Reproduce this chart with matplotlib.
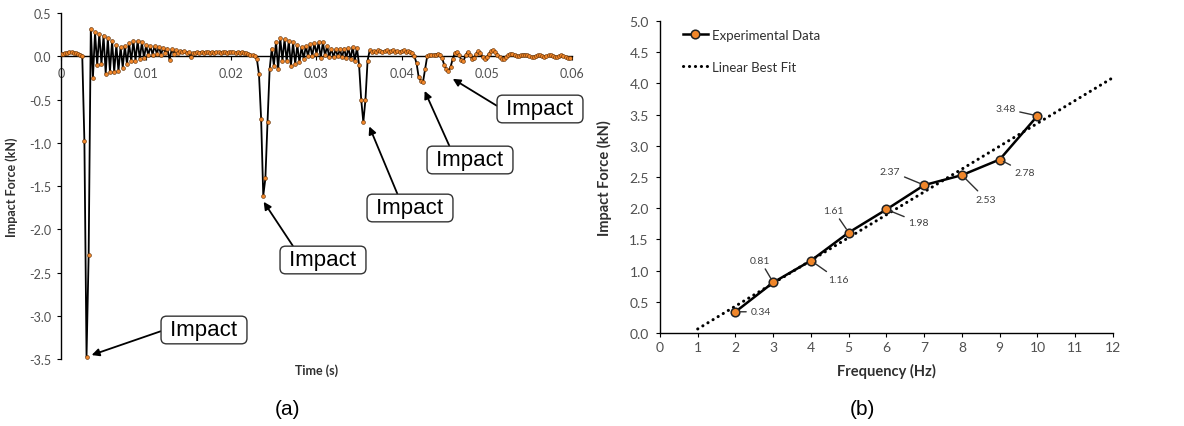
import numpy as np
import matplotlib
matplotlib.use('Agg')
import matplotlib.pyplot as plt
from matplotlib.lines import Line2D
from matplotlib.ticker import FormatStrFormatter

plt.rcParams['font.family'] = ['Lato', 'DejaVu Sans']

# ---- panel (a): impact force time history ----
dt = 0.00025  # sample interval (s)
force_a = [
    0.03, 0.03, 0.04, 0.04, 0.05, 0.05, 0.04, 0.04, 0.03, 0.02,
    0.00, -0.98, -3.47, -2.29,
    0.32, -0.25, 0.28, -0.10, 0.26, -0.09,
    0.24, -0.20, 0.21, -0.18, 0.18, -0.18, 0.13, -0.17, 0.11, -0.13,
    0.12, -0.09, 0.15, -0.06, 0.18, -0.05, 0.18, -0.03, 0.16, -0.02,
    0.13, 0.01, 0.12, 0.02, 0.12, 0.03, 0.11, 0.02, 0.10, 0.04,
    0.09, -0.04, 0.08, 0.03, 0.07, 0.04, 0.06, 0.05, 0.06, 0.04,
    0.05, -0.01, 0.04, 0.04, 0.05, 0.04, 0.05, 0.04, 0.05, 0.05,
    0.04, 0.05, 0.04, 0.05, 0.05, 0.04, 0.05, 0.05, 0.04, 0.05,
    0.05, 0.05, 0.04, 0.05, 0.04, 0.05, 0.04, 0.04, 0.03, 0.02,
    0.01, 0.00, -0.03, -0.21, -0.72, -1.61, -1.41, -0.76, -0.15, 0.09,
    -0.11, 0.17, -0.15, 0.21, -0.05, 0.20, -0.06, 0.18, -0.11, 0.16,
    -0.09, 0.13, -0.07, 0.11, -0.03, 0.12, 0.00, 0.14, 0.00, 0.15,
    0.03, 0.16, -0.02, 0.16, 0.01, 0.12, -0.01, 0.09, -0.01, 0.08,
    0.00, 0.08, -0.01, 0.09, -0.02, 0.10, -0.03, 0.11, -0.05, 0.10,
    -0.10, -0.50, -0.76, -0.50, -0.05, 0.07, 0.05, 0.06, 0.05, 0.07,
    0.06, 0.05, 0.06, 0.07, 0.05, 0.06, 0.07, 0.05, 0.06, 0.05,
    0.06, 0.07, 0.05, 0.06, 0.05, 0.04, 0.00, -0.08, -0.24, -0.28,
    -0.30, -0.15, 0.00, 0.01, 0.02, 0.02, 0.02, 0.03, 0.02, -0.02,
    -0.10, -0.15, -0.17, -0.12, -0.03, 0.04, 0.05, 0.01, -0.04, -0.06,
    0.01, 0.05, 0.02, -0.03, -0.02, 0.03, 0.06, 0.04, -0.01, -0.03,
    -0.01, 0.03, 0.06, 0.07, 0.05, 0.02, -0.01, -0.03, -0.03, -0.01,
    0.01, 0.03, 0.03, 0.02, 0.00, 0.00, 0.01, 0.02, 0.02, 0.01,
    0.00, -0.01, -0.01, 0.00, 0.01, 0.01, 0.00, -0.01, 0.00, 0.01,
    0.01, 0.00, -0.01, -0.01, 0.00, 0.01, 0.00, -0.01, -0.02, -0.02,
]
time_a = np.arange(len(force_a)) * dt
xticks_a = [0, 0.01, 0.02, 0.03, 0.04, 0.05, 0.06]
xtick_labels_a = ['0', '0.01', '0.02', '0.03', '0.04', '0.05', '0.06']

# ---- panel (b): peak impact force vs frequency ----
freq = [2, 3, 4, 5, 6, 7, 8, 9, 10]
force_b = [0.34, 0.81, 1.16, 1.61, 1.98, 2.37, 2.53, 2.78, 3.48]

orange = '#F0862A'
tick_col = '#505050'
lab_col = '#303030'

fig = plt.figure(figsize=(11.84, 4.27), dpi=100)
ax1 = fig.add_axes([0.0515, 0.156, 0.4316, 0.8112])
ax2 = fig.add_axes([0.5574, 0.2178, 0.3826, 0.7307])

# panel (a)
ax1.plot(time_a, force_a, '-', color='black', lw=1.3, marker='o', ms=2.8,
         mfc=orange, mec='#5a2a00', mew=0.4, zorder=3)
ax1.set_xlim(0, 0.06)
ax1.set_ylim(-3.5, 0.5)
ax1.set_yticks(np.arange(-3.5, 0.51, 0.5))
ax1.yaxis.set_major_formatter(FormatStrFormatter('%.1f'))
ax1.set_xticks(xticks_a)
ax1.set_xticklabels(xtick_labels_a)
ax1.spines['bottom'].set_position(('data', 0))
for s in ['top', 'right']:
    ax1.spines[s].set_visible(False)
for s in ['left', 'bottom']:
    ax1.spines[s].set_color('black')
    ax1.spines[s].set_linewidth(1.0)
ax1.tick_params(axis='both', direction='out', length=3, width=0.8,
                labelsize=9, labelcolor=tick_col)
ax1.tick_params(axis='x', pad=5)
ax1.tick_params(axis='y', pad=4)
ax1.set_ylabel('Impact Force (kN)', fontsize=9, fontweight='bold', color=lab_col)
ax1.yaxis.set_label_coords(-0.085, 0.5)
ax1.set_xlabel('Time (s)', fontsize=9, fontweight='bold', color=lab_col)
ax1.xaxis.set_label_coords(0.5, -0.012)

# "Impact" callouts: (target t, target F, box x px, box y px from top, relpos)
callouts = [
    (0.0036, -3.45, 204, 331, (0.0, 0.5)),
    (0.0238, -1.68, 323, 261, (0.15, 1.0)),
    (0.0362, -0.81, 410, 209, (0.36, 1.0)),
    (0.0427, -0.40, 470, 161, (0.26, 1.0)),
    (0.0460, -0.26, 540, 110, (0.0, 0.55)),
]
H = 427
for tx, ty, bx, by, rp in callouts:
    ax1.annotate(' Impact ', xy=(tx, ty), xytext=(bx, H - by),
                 textcoords='figure pixels', ha='center', va='center',
                 fontsize=16, family='Liberation Sans', color='black',
                 bbox=dict(boxstyle='round,pad=0.15,rounding_size=0.25',
                           fc='white', ec='#333333', lw=1.0),
                 arrowprops=dict(arrowstyle='-|>', color='black', lw=1.3,
                                 mutation_scale=11, shrinkA=0, shrinkB=0,
                                 relpos=rp),
                 annotation_clip=False, zorder=5)

# panel (b)
slope, intercept = np.polyfit(freq, force_b, 1)
fit_x = np.array([1, 12])
ax2.plot(fit_x, slope * fit_x + intercept, color='black', lw=2.2,
         linestyle=(0, (0.05, 1.9)), dash_capstyle='round', zorder=2)
ax2.plot(freq, force_b, '-', color='black', lw=1.8, marker='o', ms=6.2,
         mfc=orange, mec='#222222', mew=1.1, zorder=3)
ax2.set_xlim(0, 12)
ax2.set_ylim(0, 5)
ax2.set_xticks(range(0, 13))
ax2.set_yticks(np.arange(0, 5.01, 0.5))
ax2.yaxis.set_major_formatter(FormatStrFormatter('%.1f'))
for s in ['top', 'right']:
    ax2.spines[s].set_visible(False)
for s in ['left', 'bottom']:
    ax2.spines[s].set_color('black')
    ax2.spines[s].set_linewidth(1.0)
ax2.tick_params(axis='both', direction='out', length=3, width=0.8,
                labelsize=10, labelcolor=tick_col)
ax2.tick_params(axis='x', pad=3)
ax2.tick_params(axis='y', pad=5)
ax2.set_ylabel('Impact Force (kN)', fontsize=10.5, fontweight='bold', color=lab_col)
ax2.yaxis.set_label_coords(-0.105, 0.5)
ax2.set_xlabel('Frequency (Hz)', fontsize=10.5, fontweight='bold', color=lab_col)
ax2.xaxis.set_label_coords(0.5, -0.095)

# data labels with leader lines (offsets in pixels)
label_offsets = [(25, 0), (-13, 22), (27, -19), (-15, 22), (32, -13),
                 (-34, 14), (24, -24), (25, -13), (-32, 7)]
for x, y, off in zip(freq, force_b, label_offsets):
    ax2.annotate(f'{y:.2f}', xy=(x, y), xytext=off, textcoords='offset pixels',
                 ha='center', va='center', fontsize=7.5, color='#404040',
                 arrowprops=dict(arrowstyle='-', color='#303030', lw=1.0,
                                 shrinkA=1, shrinkB=3))

handles = [
    Line2D([], [], color='black', lw=1.8, marker='o', ms=6.2, mfc=orange,
           mec='#222222', mew=1.1),
    Line2D([], [], color='black', lw=2.2, linestyle=(0, (0.05, 1.9)),
           dash_capstyle='round'),
]
leg = ax2.legend(handles, ['Experimental Data', 'Linear Best Fit'],
                 loc='upper left', bbox_to_anchor=(0.05, 0.975), frameon=False,
                 fontsize=9.5, handlelength=1.9, handletextpad=0.3,
                 labelspacing=1.5, borderpad=0, borderaxespad=0)
for t in leg.get_texts():
    t.set_color('#303030')

fig.text(287 / 1184, 1 - 410 / 427, '(a)', ha='center', va='center',
         fontsize=15, family='Liberation Sans')
fig.text(862 / 1184, 1 - 410 / 427, '(b)', ha='center', va='center',
         fontsize=15, family='Liberation Sans')

fig.savefig('out.png', dpi=100)
